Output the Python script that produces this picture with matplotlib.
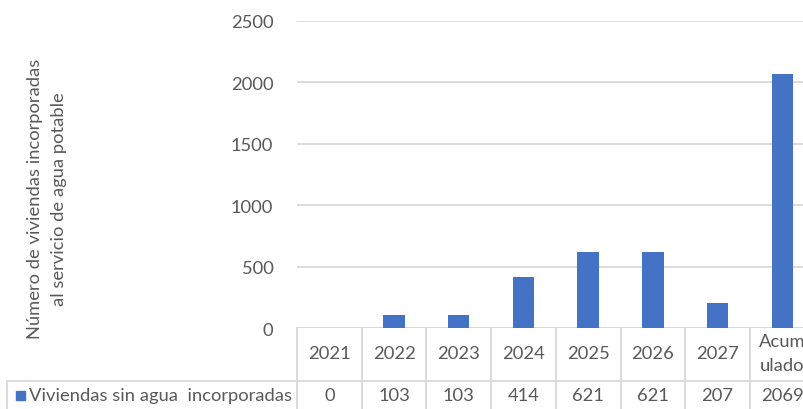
import matplotlib
matplotlib.use("Agg")
import matplotlib.pyplot as plt
from matplotlib.transforms import blended_transform_factory
from matplotlib.patches import Rectangle

# Data
categories = ["2021", "2022", "2023", "2024", "2025", "2026", "2027", "Acum\nulado"]
values = [0, 103, 103, 414, 621, 621, 207, 2069]
value_labels = ["0", "103", "103", "414", "621", "621", "207", "2069"]
series_name = "Viviendas sin agua  incorporadas"
y_ticks = [0, 500, 1000, 1500, 2000, 2500]

W, H = 804, 410
BLUE = "#4472C4"
TEXT = "#595959"
GRID = "#D9D9D9"
FONT = "Lato"
FS = 13.2

plt.rcParams["font.family"] = [FONT, "DejaVu Sans"]

fig = plt.figure(figsize=(W / 100, H / 100), dpi=100)

def fx(px):
    return px / W

def fy(py):
    return 1 - py / H

# plot area: left edge at 297px, 8 columns of ~64.7px, 0 at 329px, 2500 at 22px
col_w = 64.7
left, right = 297, 297 + 8 * col_w
top, bottom = 22, 329
ax = fig.add_axes([fx(left), fy(bottom), (right - left) / W, (bottom - top) / H])
ax.set_xlim(-0.5, len(categories) - 0.5)
ax.set_ylim(0, 2500)

x = list(range(len(categories)))
ax.bar(x, values, width=0.33, color=BLUE, zorder=3)

ax.set_yticks(y_ticks)
ax.set_yticklabels([str(t) for t in y_ticks])
ax.tick_params(axis="y", length=0, pad=17, labelsize=FS, labelcolor=TEXT)
ax.set_xticks([])
ax.grid(axis="y", color=GRID, linewidth=1.3, zorder=0)
for s in ax.spines.values():
    s.set_visible(False)
ax.axhline(0, color=GRID, linewidth=1.3, zorder=2)

# data table below the axis
tr = blended_transform_factory(ax.transData, fig.transFigure)
row_split = 382
for i in range(len(categories) + 1):
    xb = i - 0.5
    ax.plot([xb, xb], [fy(bottom), fy(H + 2)], color=GRID, lw=1.3,
            transform=tr, clip_on=False)
fig.add_artist(plt.Line2D([fx(7), 1.0], [fy(row_split), fy(row_split)],
                          color=GRID, lw=1.3, transform=fig.transFigure))
fig.add_artist(plt.Line2D([fx(7), fx(7)], [fy(row_split), fy(H + 2)],
                          color=GRID, lw=1.3, transform=fig.transFigure))

for i, (c, v) in enumerate(zip(categories, value_labels)):
    ax.text(i, fy(354), c, transform=tr, ha="center", va="center",
            fontsize=FS, color=TEXT, linespacing=1.65, clip_on=False)
    ax.text(i, fy(396), v, transform=tr, ha="center", va="center",
            fontsize=FS, color=TEXT, clip_on=False)

# legend key and series name in the table row
fig.add_artist(Rectangle((fx(16), fy(400.5)), 9 / W, 9 / H, color=BLUE,
                         transform=fig.transFigure))
fig.text(fx(29), fy(396), series_name, ha="left", va="center",
         fontsize=FS, color=TEXT)

# y-axis title
fig.text(fx(47), fy(199), "Número de viviendas incorporadas\nal servicio de agua potable",
         rotation=90, ha="center", va="center", multialignment="center",
         fontsize=FS, color=TEXT, linespacing=1.6)

fig.savefig("out.png", dpi=100)
